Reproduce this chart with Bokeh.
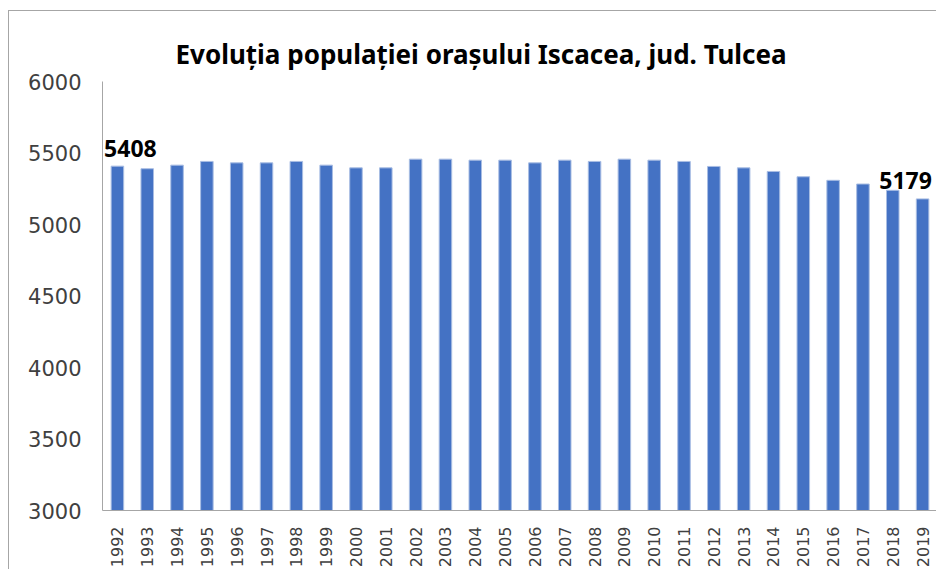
from bokeh.plotting import figure
from bokeh.models import ColumnDataSource, Label, FixedTicker, Range1d, FactorRange
from bokeh.embed import file_html
from bokeh.resources import INLINE

years = [str(y) for y in range(1992, 2020)]
population = [5408, 5390, 5415, 5441, 5431, 5431, 5441, 5415, 5396, 5396,
              5457, 5457, 5450, 5450, 5431, 5450, 5441, 5457, 5450, 5441,
              5406, 5396, 5371, 5334, 5309, 5283, 5239, 5179]
y_ticks = [3000, 3500, 4000, 4500, 5000, 5500, 6000]
title_text = "Evoluția populației orașului Iscacea, jud. Tulcea"

src = ColumnDataSource(dict(x=years, top=population))

p = figure(width=928, height=559, x_range=FactorRange(*years, range_padding=0),
           y_range=Range1d(3000, 6000), output_backend="svg", toolbar_location=None,
           title=title_text, min_border_left=93, min_border_right=0,
           min_border_top=70, min_border_bottom=58,
           styles={"margin-left": "8px", "margin-top": "10px",
                   "border-left": "1px solid #a6a6a6", "border-top": "1px solid #a6a6a6"})

p.vbar(x="x", top="top", bottom=3000, width=0.42, source=src,
       fill_color="#4472C4", line_color="#a8bde3", line_width=1)

# data labels on first and last bars; a factor's centre in a FactorRange is index + 0.5
for i, xo in ((0, 13), (len(years) - 1, -17)):
    p.add_layout(Label(x=i + 0.5, y=population[i], text=str(population[i]),
                       x_offset=xo, y_offset=18,
                       text_align="center", text_baseline="alphabetic",
                       text_font="Noto Sans", text_font_style="bold",
                       text_font_size="23px", text_color="#000000"))

p.title.text_font = "Noto Sans"
p.title.text_font_style = "bold"
p.title.text_font_size = "26px"
p.title.align = "left"
p.title.offset = 73
p.title.text_color = "#000000"
p.title.standoff = 19

p.outline_line_color = None
p.xgrid.grid_line_color = None
p.ygrid.grid_line_color = None

p.yaxis.ticker = FixedTicker(ticks=y_ticks)
p.yaxis.major_tick_line_color = None
p.yaxis.minor_tick_line_color = None
p.yaxis.axis_line_color = "#a6a6a6"
p.yaxis.major_label_text_font = "DejaVu Sans"
p.yaxis.major_label_text_font_size = "21px"
p.yaxis.major_label_text_color = "#404040"
p.yaxis.major_label_standoff = 15

p.xaxis.major_tick_line_color = None
p.xaxis.axis_line_color = "#a6a6a6"
p.xaxis.major_label_orientation = 1.5708
p.xaxis.major_label_text_font = "DejaVu Sans"
p.xaxis.major_label_text_font_size = "16px"
p.xaxis.major_label_text_color = "#404040"
p.xaxis.major_label_standoff = 10

open("out.html", "w").write(file_html(p, INLINE))
